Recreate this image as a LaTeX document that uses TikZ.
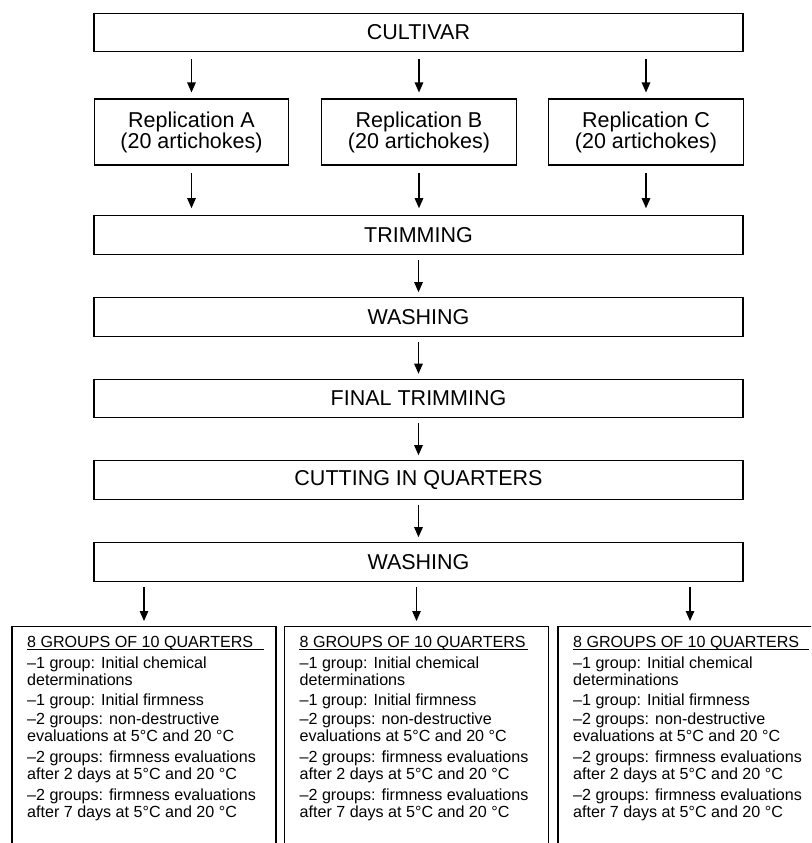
\documentclass[tikz,border=0pt]{standalone}
\usepackage{fontspec}
\setmainfont{Liberation Sans}
\usetikzlibrary{arrows.meta,calc}
\begin{document}
\begin{tikzpicture}[x=1pt,y=-1pt,
  box/.style={draw, line width=1.1pt, inner sep=0pt, align=center,
    font=\fontsize{21.5}{21}\selectfont},
  wide/.style={box, minimum width=649pt, minimum height=38.5pt},
  rep/.style={box, minimum width=194.5pt, minimum height=66pt},
  arr/.style={line width=1.2pt, -{Triangle[width=8.5pt,length=10pt]},
    shorten <=5pt, shorten >=5pt},
  gbox/.style={draw, line width=1.1pt, minimum width=264pt,
    minimum height=240pt, inner sep=0pt, anchor=north},
  gtext/.style={font=\fontsize{16.1}{18}\selectfont, anchor=base west, inner sep=0pt},
]
\useasboundingbox (0,0) rectangle (811,843);
\clip (0,0) rectangle (811,843);

\node[wide] (cult) at (418.5,32.5) {CULTIVAR};
\node[rep] (repA) at (191.5,132) {Replication A\\(20 artichokes)};
\node[rep] (repB) at (419,132) {Replication B\\(20 artichokes)};
\node[rep] (repC) at (646,132) {Replication C\\(20 artichokes)};
\node[wide] (trim) at (418.5,235) {TRIMMING};
\node[wide] (washA) at (418.5,317) {WASHING};
\node[wide] (final) at (418.5,398.5) {FINAL TRIMMING};
\node[wide] (cut) at (418.5,480) {CUTTING IN QUARTERS};
\node[wide] (washB) at (418.5,562) {WASHING};

\node[gbox] (g1) at (144,626) {};
\node[gbox] (g2) at (416.5,626) {};
\node[gbox] (g3) at (690,626) {};

\foreach \r in {repA,repB,repC} {
  \draw[arr, shorten <=7pt, shorten >=6pt] (cult.south -| \r.north) -- (\r.north);
  \draw[arr, shorten <=7.5pt, shorten >=7pt] (\r.south) -- (trim.north -| \r.south);
}
\draw[arr] (trim) -- (washA);
\draw[arr] (washA) -- (final);
\draw[arr] (final) -- (cut);
\draw[arr] (cut) -- (washB);
\foreach \g in {g1,g2,g3} {
  \draw[arr] (washB.south -| \g.north) -- (\g.north);
}

\foreach \g/\ul in {g1/237,g2/229,g3/236} {
  \node[gtext] (\g-t) at ($(\g.north west)+(15.5,21)$) {8 GROUPS OF 10 QUARTERS};
  \draw[line width=1pt] ($(\g-t.base west)+(0,2.5)$) -- ++(\ul,0);
  \foreach \txt/\dy [count=\i] in {
      {--1 group: Initial chemical}/42,
      {determinations}/59,
      {--1 group: Initial firmness}/79,
      {--2 groups: non-destructive}/98,
      {evaluations at 5°C and 20 °C}/115,
      {--2 groups: firmness evaluations}/136,
      {after 2 days at 5°C and 20 °C}/153,
      {--2 groups: firmness evaluations}/174,
      {after 7 days at 5°C and 20 °C}/191} {
    \node[gtext] (\g-l\i) at ($(\g.north west)+(15.5,\dy)$) {\txt};
  }
}
\end{tikzpicture}
\end{document}
